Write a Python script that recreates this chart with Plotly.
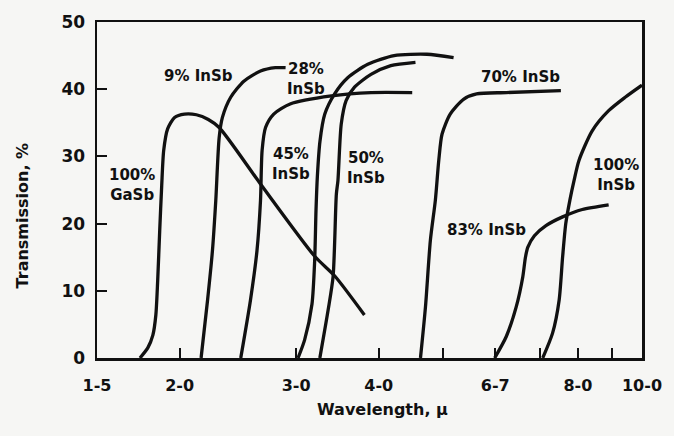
import numpy as np
import plotly.graph_objects as go

# ---- data (wavelength in microns, transmission in %) ----
wl_gasb100 = [1.742, 1.790, 1.822, 1.841, 1.853, 1.866, 1.879, 1.892, 1.918, 1.965, 2.034, 2.120, 2.210, 2.295, 2.650, 3.203, 3.432, 3.805]
tr_gasb100 = [0, 1.5, 3.4, 6.4, 11.6, 19.0, 25.7, 30.9, 34.1, 35.8, 36.3, 36.2, 35.5, 34.3, 25.9, 15.1, 12.2, 6.4]

wl_insb9 = [2.155, 2.204, 2.242, 2.268, 2.295, 2.321, 2.389, 2.501, 2.650, 2.791, 2.892]
tr_insb9 = [0, 8.6, 16.0, 23.4, 32.8, 35.8, 38.8, 41.2, 42.7, 43.2, 43.2]

wl_insb28 = [2.474, 2.559, 2.618, 2.650, 2.665, 2.697, 2.775, 2.938, 3.392, 3.893, 4.494]
tr_insb28 = [0, 8.6, 16.0, 23.4, 30.9, 34.3, 36.3, 37.8, 39.0, 39.5, 39.5]

wl_insb45 = [3.02, 3.09, 3.17, 3.20, 3.215, 3.23, 3.26, 3.315, 3.43, 3.59, 3.85, 4.22, 4.73, 5.19]
tr_insb45 = [0, 2.7, 8.0, 14.5, 22.0, 27.0, 32.3, 36.3, 39.3, 41.7, 43.7, 45.0, 45.2, 44.7]

wl_insb50 = [3.258, 3.353, 3.412, 3.451, 3.470, 3.510, 3.570, 3.676, 3.893, 4.171, 4.545]
tr_insb50 = [0, 7.1, 12.1, 24.4, 26.4, 34.8, 38.3, 40.3, 42.2, 43.5, 44.0]

wl_insb70 = [4.625, 4.706, 4.787, 4.871, 4.929, 4.985, 5.129, 5.372, 5.623, 6.235, 7.540]
tr_insb70 = [0, 7.6, 17.5, 23.5, 29.4, 33.3, 36.3, 38.5, 39.3, 39.5, 39.8]

wl_insb83 = [5.988, 6.235, 6.454, 6.604, 6.665, 6.721, 6.876, 7.158, 7.585, 8.123, 8.904]
tr_insb83 = [0, 3.2, 7.6, 12.1, 15.0, 16.5, 18.2, 19.7, 21.0, 22.1, 22.8]

wl_insb100 = [7.078, 7.325, 7.494, 7.585, 7.669, 7.780, 7.893, 8.030, 8.408, 8.904, 9.431, 10.0]
tr_insb100 = [0, 3.7, 8.6, 15.0, 20.0, 23.5, 26.4, 29.4, 33.8, 36.8, 38.8, 40.6]

curve_labels = ["100%<br>GaSb", "9% InSb", "28%<br>InSb", "45%<br>InSb", "50%<br>InSb",
                "70% InSb", "83% InSb", "100%<br>InSb"]
label_wl = [1.694, 2.135, 3.10, 2.942, 3.822, 6.545, 5.821, 9.15]
label_tr = [25.7, 42.0, 41.5, 28.8, 28.3, 41.8, 19.0, 27.2]

x_tickvals = [1.5, 2, 3, 4, 5, 6, 7, 8, 9, 10]
x_ticktext = ["1-5", "2-0", "3-0", "4-0", "", "6-7", "", "8-0", "", "10-0"]
y_tickvals = [0, 10, 20, 30, 40, 50]
y_ticktext = ["0", "10", "20", "30", "40", "50"]

INK = "#111111"
BG = "#f6f6f4"
FONT = "DejaVu Sans"

series = [
    (wl_gasb100, tr_gasb100), (wl_insb9, tr_insb9), (wl_insb28, tr_insb28),
    (wl_insb45, tr_insb45), (wl_insb50, tr_insb50), (wl_insb70, tr_insb70),
    (wl_insb83, tr_insb83), (wl_insb100, tr_insb100),
]

fig = go.Figure()
for wl, tr in series:
    fig.add_trace(go.Scatter(
        x=wl, y=tr, mode="lines",
        line=dict(color=INK, width=3.3, shape="spline", smoothing=0.7),
        showlegend=False, hoverinfo="skip",
    ))

for txt, lx, ly in zip(curve_labels, label_wl, label_tr):
    fig.add_annotation(
        x=np.log10(lx), y=ly, xref="x", yref="y", text=txt, showarrow=False,
        font=dict(family=FONT, size=15, color=INK, weight="bold"),
        align="center", xanchor="center", yanchor="middle",
    )

# axis titles
fig.add_annotation(
    x=-0.136, y=0.424, xref="paper", yref="paper", text="Transmission, %",
    textangle=-90, showarrow=False, xanchor="center", yanchor="middle",
    font=dict(family=FONT, size=16, color=INK, weight="bold"),
)
fig.add_annotation(
    x=0.524, y=-0.154, xref="paper", yref="paper", text="Wavelength, \u03bc",
    showarrow=False, xanchor="center", yanchor="middle",
    font=dict(family=FONT, size=16, color=INK, weight="bold"),
)

fig.update_xaxes(
    type="log", range=[np.log10(1.5), np.log10(10)],
    tickvals=x_tickvals, ticktext=x_ticktext,
    ticks="inside", ticklen=10, tickwidth=2, tickcolor=INK,
    tickfont=dict(family=FONT, size=16, color=INK, weight="bold"),
    ticklabelstandoff=11,
    showline=True, linewidth=2.5, linecolor=INK, mirror=True,
    showgrid=False, zeroline=False,
)
fig.update_yaxes(
    range=[0, 50],
    tickvals=y_tickvals, ticktext=y_ticktext,
    ticks="inside", ticklen=10, tickwidth=2, tickcolor=INK,
    tickfont=dict(family=FONT, size=17, color=INK, weight="bold"),
    ticklabelstandoff=6,
    showline=True, linewidth=2.5, linecolor=INK, mirror=True,
    showgrid=False, zeroline=False,
)
fig.update_layout(
    width=674, height=436,
    margin=dict(l=97, r=27, t=21, b=78),
    paper_bgcolor=BG, plot_bgcolor=BG,
)
fig.write_html(
    "out.html",
    config={"displayModeBar": False, "staticPlot": True},
    post_script="document.body.style.margin='0';document.body.style.background='%s';" % BG,
)
